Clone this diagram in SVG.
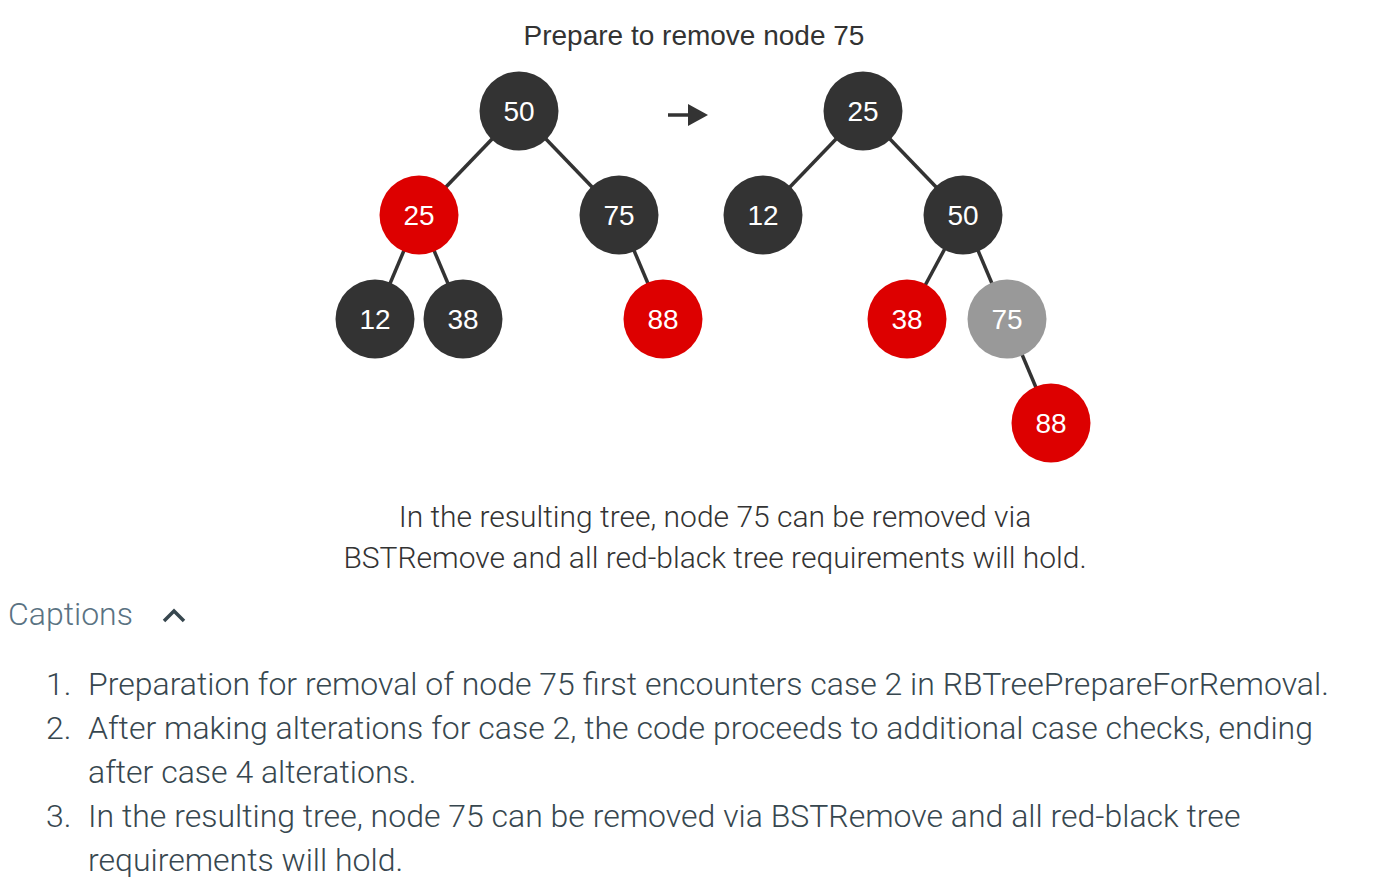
<svg xmlns="http://www.w3.org/2000/svg" width="1376" height="890" viewBox="0 0 1376 890">
<style>
.blk{fill:#333333}
.red{fill:#dd0000}
.gry{fill:#999999}
.lbl{font-family:"Liberation Sans",Arial,sans-serif;font-size:28px;fill:#ffffff;text-anchor:middle;dominant-baseline:central}
.edge{stroke:#333333;stroke-width:3.5}
.cap{font-family:Roboto,sans-serif;font-weight:300;font-size:30px;fill:#333333;text-anchor:middle}
.li{font-family:Roboto,sans-serif;font-weight:300;font-size:32px;fill:#37474f}
</style>
<rect width="1376" height="890" fill="#ffffff"/>
<text x="694" y="45" font-family="Liberation Sans,Arial,sans-serif" font-size="28" fill="#333333" text-anchor="middle">Prepare to remove node 75</text>
<g id="connectors">
<line class="edge" x1="519" y1="111" x2="419" y2="215"/>
<line class="edge" x1="519" y1="111" x2="619" y2="215"/>
<line class="edge" x1="419" y1="215" x2="375" y2="319"/>
<line class="edge" x1="419" y1="215" x2="463" y2="319"/>
<line class="edge" x1="619" y1="215" x2="663" y2="319"/>
<line class="edge" x1="863" y1="111" x2="763" y2="215"/>
<line class="edge" x1="863" y1="111" x2="963" y2="215"/>
<line class="edge" x1="963" y1="215" x2="907" y2="319"/>
<line class="edge" x1="963" y1="215" x2="1007" y2="319"/>
<line class="edge" x1="1007" y1="319" x2="1051" y2="423"/>
<line x1="668" y1="115" x2="690" y2="115" stroke="#333333" stroke-width="3.5"/>
<polygon points="688,104 708,115 688,126" fill="#333333"/>
</g>
<g id="L50"><circle class="blk" cx="519" cy="111" r="39.5"/><text class="lbl" x="519" y="111">50</text></g>
<g id="L25"><circle class="red" cx="419" cy="215" r="39.5"/><text class="lbl" x="419" y="215">25</text></g>
<g id="L75"><circle class="blk" cx="619" cy="215" r="39.5"/><text class="lbl" x="619" y="215">75</text></g>
<g id="L12"><circle class="blk" cx="375" cy="319" r="39.5"/><text class="lbl" x="375" y="319">12</text></g>
<g id="L38"><circle class="blk" cx="463" cy="319" r="39.5"/><text class="lbl" x="463" y="319">38</text></g>
<g id="L88"><circle class="red" cx="663" cy="319" r="39.5"/><text class="lbl" x="663" y="319">88</text></g>
<g id="R25"><circle class="blk" cx="863" cy="111" r="39.5"/><text class="lbl" x="863" y="111">25</text></g>
<g id="R12"><circle class="blk" cx="763" cy="215" r="39.5"/><text class="lbl" x="763" y="215">12</text></g>
<g id="R50"><circle class="blk" cx="963" cy="215" r="39.5"/><text class="lbl" x="963" y="215">50</text></g>
<g id="R38"><circle class="red" cx="907" cy="319" r="39.5"/><text class="lbl" x="907" y="319">38</text></g>
<g id="R75"><circle class="gry" cx="1007" cy="319" r="39.5"/><text class="lbl" x="1007" y="319">75</text></g>
<g id="R88"><circle class="red" cx="1051" cy="423" r="39.5"/><text class="lbl" x="1051" y="423">88</text></g>
<text class="cap" x="715" y="527">In the resulting tree, node 75 can be removed via</text>
<text class="cap" x="715" y="568">BSTRemove and all red-black tree requirements will hold.</text>
<text x="8" y="625" font-family="Roboto,sans-serif" font-weight="300" font-size="32" fill="#5a7282">Captions</text>
<polyline points="164,621 174,611 184,621" fill="none" stroke="#37474f" stroke-width="3.5"/>
<text class="li" x="46" y="695">1.</text>
<text class="li" x="88" y="695">Preparation for removal of node 75 first encounters case 2 in RBTreePrepareForRemoval.</text>
<text class="li" x="46" y="739">2.</text>
<text class="li" x="88" y="739">After making alterations for case 2, the code proceeds to additional case checks, ending</text>
<text class="li" x="88" y="783">after case 4 alterations.</text>
<text class="li" x="46" y="827">3.</text>
<text class="li" x="88" y="827">In the resulting tree, node 75 can be removed via BSTRemove and all red-black tree</text>
<text class="li" x="88" y="871">requirements will hold.</text>
</svg>
